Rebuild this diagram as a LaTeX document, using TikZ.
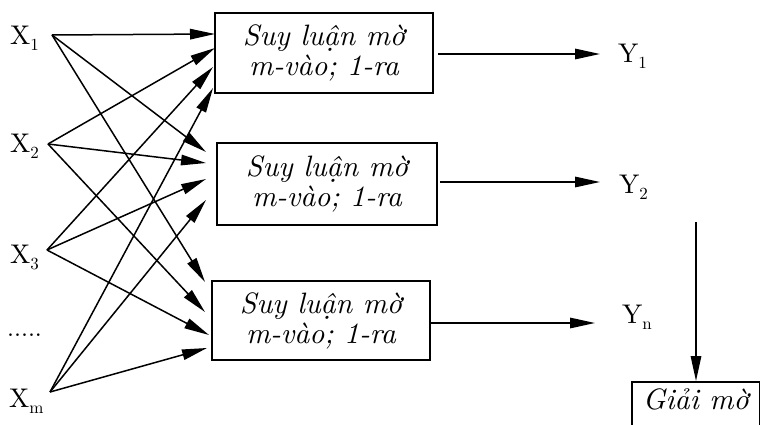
\documentclass[tikz,border=0pt]{standalone}
\usepackage{fontspec}
\setmainfont{lmroman10-regular.otf}[ItalicFont=lmroman10-italic.otf, BoldFont=lmroman10-bold.otf]
\usetikzlibrary{arrows.meta}
\newcommand{\mysub}[1]{\raisebox{-6pt}{\fontsize{17}{17}\selectfont #1}}
\begin{document}
\begin{tikzpicture}[x=1pt,y=-1pt,
  lab/.style={inner sep=0pt, anchor=base west, font=\fontsize{27}{30}\selectfont},
  dotlab/.style={inner sep=0pt, anchor=base west, font=\fontsize{25}{28}\selectfont},
  fbox/.style={draw, line width=1.6pt, inner sep=0pt, align=center, font=\fontsize{29.5}{30}\selectfont\itshape},
  con/.style={line width=1.5pt, -{Triangle[length=25pt,width=10.5pt]}},
]
\useasboundingbox (0,0) rectangle (760,425);
\clip (0,0) rectangle (760,425);

% input labels
\node[lab] (x1) at (10,45) {X\mysub{1}};
\node[lab] (x2) at (10,152) {X\mysub{2}};
\node[lab] (x3) at (10,263) {X\mysub{3}};
\node[dotlab] (dots) at (7,336) {.....};
\node[lab] (xm) at (9,407) {X\mysub{m}};

% source points
\coordinate (s1) at (52,35);
\coordinate (s2) at (48,144);
\coordinate (s3) at (47,250);
\coordinate (sm) at (50,392);

% inference boxes
\node[fbox, minimum width=218pt, minimum height=80pt] (b1) at (324,53) {Suy luận mờ\\m-vào; 1-ra};
\node[fbox, minimum width=220pt, minimum height=82pt] (b2) at (327,184) {Suy luận mờ\\m-vào; 1-ra};
\node[fbox, minimum width=218pt, minimum height=79pt] (b3) at (321,320.5) {Suy luận mờ\\m-vào; 1-ra};

% arrow tips at boxes
\coordinate (t11) at (215,34);
\coordinate (t21) at (215,48);
\coordinate (t31) at (213,67);
\coordinate (tm1) at (213,88);
\coordinate (t12) at (206,152);
\coordinate (t22) at (206,163);
\coordinate (t32) at (206,179);
\coordinate (tm2) at (206,200);
\coordinate (t13) at (205,282);
\coordinate (t23) at (205,312);
\coordinate (t33) at (209,335);
\coordinate (tm3) at (207,348);

\foreach \s in {1,2,3,m}{
  \foreach \b in {1,2,3}{
    \draw[con] (s\s) -- (t\s\b);
  }
}

% outputs
\node[lab] (y1) at (618,63) {Y\mysub{1}};
\node[lab] (y2) at (619,193) {Y\mysub{2}};
\node[lab] (yn) at (622,323) {Y\mysub{n}};
\coordinate (o1) at (600,54);
\coordinate (o2) at (600,182);
\coordinate (o3) at (595,323);
\draw[con] ([xshift=4pt]b1.east |- o1) -- (o1);
\draw[con] ([xshift=2pt]b2.east |- o2) -- (o2);
\draw[con] (b3.east |- o3) -- (o3);

% defuzzification
\node[fbox, anchor=north west, inner xsep=11pt, inner ysep=4pt, text height=24pt, text depth=30pt] (g) at (631,381) {Giải mờ};
\coordinate (v0) at (696,222);
\draw[con] (v0) -- (v0 |- g.north);
\end{tikzpicture}
\end{document}
